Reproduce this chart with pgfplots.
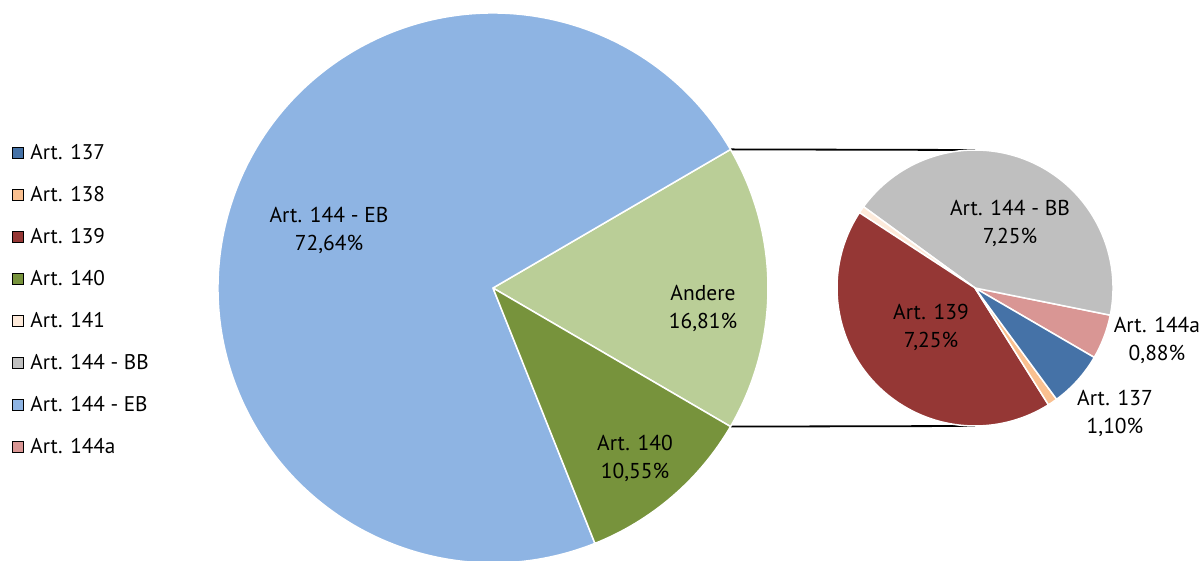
\documentclass[border=0pt]{standalone}
\usepackage{pgfplots}
\pgfplotsset{compat=1.18}
\usepackage{pgfplotstable}
\usepackage{fontspec}
\setmainfont{PT Sans}

\definecolor{cEB}{HTML}{8EB4E3}
\definecolor{cAndere}{HTML}{BACE97}
\definecolor{c140}{HTML}{77933C}
\definecolor{cBB}{HTML}{BFBFBF}
\definecolor{c139}{HTML}{953735}
\definecolor{c144a}{HTML}{D99694}
\definecolor{c137}{HTML}{4572A7}
\definecolor{c138}{HTML}{FAC090}
\definecolor{c141}{HTML}{FDEADA}

% main pie, percent of total, counter-clockwise
\pgfplotstableread{
pct   col
16.81 cAndere
72.64 cEB
10.55 c140
}\mainpie

% breakdown of "Andere"
\pgfplotstableread{
pct  col
0.88 c144a
7.25 cBB
0.14 c141
7.25 c139
0.19 c138
1.10 c137
}\subpie

% #1 table, #2 cx, #3 cy, #4 radius, #5 start angle, #6 total
\newcommand\drawpie[6]{%
  \pgfplotstablegetrowsof{#1}%
  \pgfmathtruncatemacro\nrows{\pgfplotsretval-1}%
  \edef\acc{#5}%
  \pgfplotsforeachungrouped \i in {0,...,\nrows}{%
    \pgfplotstablegetelem{\i}{pct}\of{#1}\let\val\pgfplotsretval
    \pgfplotstablegetelem{\i}{col}\of{#1}\let\col\pgfplotsretval
    \pgfmathsetmacro\aend{\acc+\val/#6*360}%
    \edef\cmd{\noexpand\filldraw[fill=\col,draw=white,line width=1.5pt,line join=round]
      (axis cs:#2,#3) -- (axis cs:{#2+#4*cos(\acc)},{#3+#4*sin(\acc)})
      arc[start angle=\acc,end angle=\aend,radius=#4pt] -- cycle;}%
    \cmd
    \let\acc\aend
  }%
}

\pgfplotsset{sq legend/.style={legend image code/.code={\fill[##1] (0pt,-5.5pt) rectangle (11pt,5.5pt);}}}

\begin{document}
\begin{tikzpicture}
\begin{axis}[
    name=ax,
    x=1pt, y=1pt,
    xmin=0, xmax=1202, ymin=0, ymax=561,
    hide axis,
    legend style={at={(axis cs:12,416)}, anchor=north west, draw=none, fill=none,
        inner sep=0pt, outer sep=0pt, row sep=27pt, column sep=7pt,
        font=\fontsize{21.2}{24}\selectfont,
        nodes={inner sep=0pt, text height=15pt, text depth=0pt}},
    legend cell align=left,
]
\addlegendimage{sq legend, fill=c137}
\addlegendimage{sq legend, fill=c138}
\addlegendimage{sq legend, fill=c139}
\addlegendimage{sq legend, fill=c140}
\addlegendimage{sq legend, fill=c141}
\addlegendimage{sq legend, fill=cBB}
\addlegendimage{sq legend, fill=cEB}
\addlegendimage{sq legend, fill=c144a}
\legend{Art. 137, Art. 138, Art. 139, Art. 140, Art. 141, Art. 144 - BB, Art. 144 - EB, Art. 144a}

% connector lines
\draw[black, line width=1.8pt] (axis cs:730.5,411.6) -- (axis cs:975,411);
\draw[black, line width=1.8pt] (axis cs:730.5,134.4) -- (axis cs:975,135);

\drawpie{\mainpie}{493}{273}{275}{-30.258}{100}
\drawpie{\subpie}{975}{273}{138}{-30.2}{16.81}

\begin{scope}[every node/.style={align=center, font=\fontsize{21.5}{28}\selectfont}]
\node at (axis cs:329,331) {Art. 144 - EB\\72,64\%};
\node at (axis cs:703,253) {Andere\\16,81\%};
\node at (axis cs:635,103) {Art. 140\\10,55\%};
\node at (axis cs:1010,338) {Art. 144 - BB\\7,25\%};
\node at (axis cs:931,234) {Art. 139\\7,25\%};
\node at (axis cs:1157,221) {Art. 144a\\0,88\%};
\node at (axis cs:1115,148) {Art. 137\\1,10\%};
\end{scope}
\end{axis}
\pgfresetboundingbox
\useasboundingbox (ax.south west) rectangle (ax.north east);
\end{tikzpicture}
\end{document}
